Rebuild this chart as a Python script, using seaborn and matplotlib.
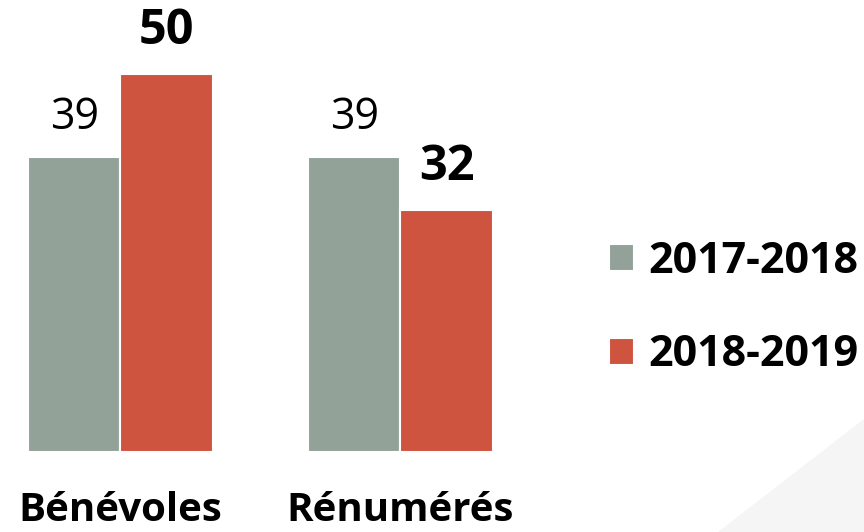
import numpy as np
import pandas as pd
import matplotlib
matplotlib.use('Agg')
import matplotlib.pyplot as plt
from matplotlib.patches import Polygon
import seaborn as sns

# données
categories = ['Bénévoles', 'Rénumérés']
periodes = ['2017-2018', '2018-2019']
valeurs_2017 = [39, 39]
valeurs_2018 = [50, 32]
couleurs = ['#93A299', '#CF543F']

df = pd.DataFrame({
    'categorie': categories * 2,
    'periode': [periodes[0]] * 2 + [periodes[1]] * 2,
    'valeur': valeurs_2017 + valeurs_2018,
})

sns.set_style('white')
plt.rcParams['font.family'] = ['Open Sans', 'DejaVu Sans']
plt.rcParams['text.color'] = 'black'
plt.rcParams['xtick.color'] = 'black'

fig = plt.figure(figsize=(8.64, 5.32), dpi=100)
# triangle gris clair en bas à droite (décor)
fig.patches.append(Polygon([[718 / 864, 0], [1, 0], [1, (532 - 419) / 532]],
                           closed=True, transform=fig.transFigure,
                           facecolor='#F5F5F5', edgecolor='none', zorder=0))

ax = fig.add_axes([0, 80 / 532, 560 / 864, 55 * 7.56 / 532])
ax.patch.set_alpha(0)

sns.barplot(data=df, x='categorie', y='valeur', hue='periode',
            palette=couleurs, width=0.66, edgecolor='white', linewidth=1.5,
            saturation=1, ax=ax)

ax.set_xlim(-0.43, 1.57)
ax.set_ylim(0, 55)

# étiquettes de valeurs
for i, cont in enumerate(ax.containers):
    if i == 0:
        ax.bar_label(cont, padding=12, fontsize=31, color='black', clip_on=False)
    else:
        ax.bar_label(cont, padding=13, fontsize=35, fontweight='bold',
                     color='black', clip_on=False)

sns.despine(ax=ax, left=True, bottom=True)
ax.set_yticks([])
ax.set_xlabel('')
ax.set_ylabel('')
ax.tick_params(axis='x', length=0, pad=28)
for lab in ax.get_xticklabels():
    lab.set_fontsize(29)
    lab.set_fontweight('bold')
    lab.set_color('black')

leg = ax.legend(loc='upper left', bbox_to_anchor=(609 / 864, 1 - 240 / 532),
                bbox_transform=fig.transFigure, frameon=False,
                prop={'weight': 'bold', 'size': 31},
                handlelength=0.58, handleheight=0.58, handletextpad=0.33,
                labelspacing=1.17, borderpad=0, borderaxespad=0)
for t in leg.get_texts():
    t.set_color('black')

fig.savefig('out.png', dpi=100)
